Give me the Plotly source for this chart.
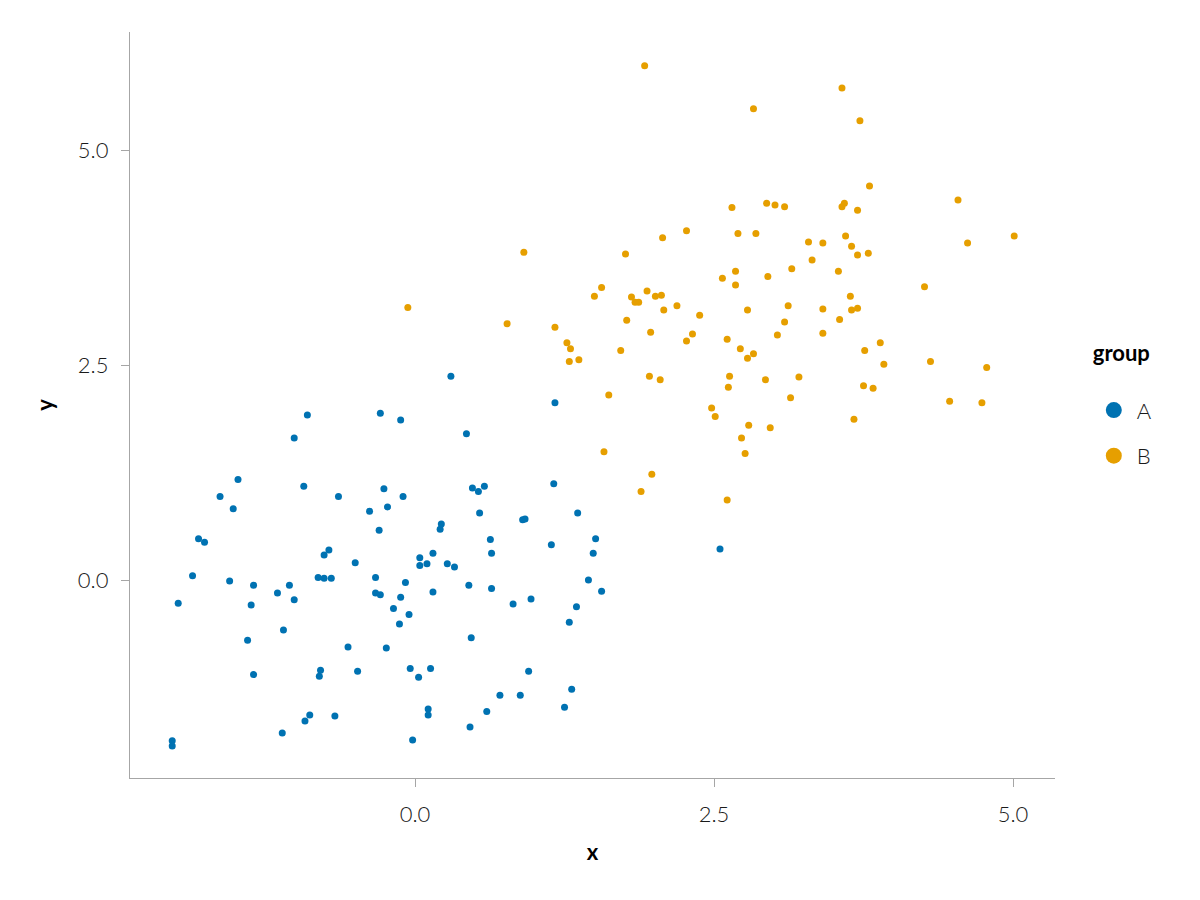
"""
Scatter of two groups (A, B) of x/y observations.
"""
import plotly.graph_objects as go

# ---------- Data ----------
groups = ["A", "B"]
colors = {"A": "#0072B2", "B": "#E69F00"}

a_x = [-2.03, -2.03, -1.98, -1.86, -1.81, -1.76, -1.63, -1.55, -1.52, -1.48,
       -1.40, -1.37, -1.35, -1.35, -1.15, -1.10, -1.05, -1.01, -1.01, -0.93,
       -0.92, -0.90, -0.88, -0.81, -0.79, -0.80, -0.76, -0.76, -0.72, -0.70,
       -0.67, -0.64, -0.56, -0.50, -0.48, -0.38, -0.33, -0.33, -0.30, -0.29,
       -0.29, -0.26, -0.24, -0.23, -0.18, -0.13, -0.12, -0.10, -0.12, -0.08,
       -0.05, -0.04, -0.02, 0.04, 0.04, 0.03, 0.10, 0.11, 0.11, 0.13,
       0.15, 0.15, 0.21, 0.22, 0.27, 0.33, 0.30, 0.43, 0.45, 0.46,
       0.47, 0.48, 0.53, 0.54, 0.58, 0.60, 0.63, 0.64, 0.64, 0.71,
       0.82, 0.88, 0.90, 0.92, 0.95, 0.97, 1.14, 1.17, 1.16, 1.25,
       1.29, 1.31, 1.35, 1.36, 1.45, 1.49, 1.51, 1.56, 2.55, -1.11]
a_y = [-1.87, -1.93, -0.27, 0.05, 0.48, 0.44, 0.97, -0.01, 0.83, 1.17,
       -0.70, -0.29, -0.06, -1.10, -0.15, -0.58, -0.06, 1.65, -0.23, 1.09,
       -1.64, 1.92, -1.57, 0.03, -1.05, -1.12, 0.29, 0.02, 0.35, 0.02,
       -1.58, 0.97, -0.78, 0.20, -1.06, 0.80, 0.03, -0.15, 0.58, -0.17,
       1.94, 1.06, -0.79, 0.85, -0.33, -0.51, 1.86, 0.97, -0.20, -0.03,
       -0.40, -1.03, -1.86, 0.26, 0.17, -1.13, 0.19, -1.50, -1.57, -1.03,
       0.31, -0.14, 0.59, 0.65, 0.19, 0.15, 2.37, 1.70, -0.06, -1.71,
       -0.67, 1.07, 1.03, 0.78, 1.09, -1.53, 0.47, 0.31, -0.10, -1.34,
       -0.28, -1.34, 0.70, 0.71, -1.06, -0.22, 0.41, 2.06, 1.12, -1.48,
       -0.49, -1.27, -0.31, 0.78, 0.00, 0.31, 0.48, -0.13, 0.36, -1.78]

b_x = [-0.06, 0.77, 0.91, 1.17, 1.27, 1.30, 1.29, 1.37, 1.50, 1.56,
       1.58, 1.62, 1.72, 1.76, 1.77, 1.81, 1.84, 1.87, 1.89, 1.92,
       1.94, 1.96, 1.97, 1.98, 2.01, 2.05, 2.06, 2.07, 2.08, 2.19,
       2.27, 2.27, 2.32, 2.38, 2.48, 2.51, 2.57, 2.61, 2.61, 2.62,
       2.63, 2.65, 2.68, 2.68, 2.70, 2.72, 2.73, 2.76, 2.78, 2.78,
       2.79, 2.83, 2.83, 2.85, 2.93, 2.94, 2.95, 2.97, 3.01, 3.03,
       3.09, 3.09, 3.12, 3.14, 3.15, 3.21, 3.29, 3.32, 3.41, 3.41,
       3.41, 3.54, 3.55, 3.57, 3.57, 3.59, 3.60, 3.64, 3.65, 3.65,
       3.67, 3.70, 3.70, 3.70, 3.72, 3.75, 3.76, 3.79, 3.80, 3.83,
       3.89, 3.92, 4.26, 4.31, 4.47, 4.54, 4.62, 4.74, 4.78, 5.01]
b_y = [3.17, 2.98, 3.81, 2.94, 2.76, 2.69, 2.54, 2.56, 3.30, 3.40,
       1.49, 2.15, 2.67, 3.79, 3.02, 3.29, 3.23, 3.23, 1.03, 5.98,
       3.36, 2.37, 2.88, 1.23, 3.30, 2.33, 3.31, 3.98, 3.14, 3.19,
       4.06, 2.78, 2.86, 3.08, 2.00, 1.90, 3.51, 2.80, 0.93, 2.24,
       2.37, 4.33, 3.59, 3.43, 4.03, 2.69, 1.65, 1.47, 3.14, 2.58,
       1.80, 5.48, 2.63, 4.03, 2.33, 4.38, 3.53, 1.77, 4.36, 2.85,
       3.00, 4.34, 3.19, 2.12, 3.62, 2.36, 3.93, 3.72, 3.92, 3.15,
       2.87, 3.59, 3.03, 5.72, 4.34, 4.38, 4.00, 3.30, 3.88, 3.14,
       1.87, 3.16, 4.30, 3.78, 5.34, 2.26, 2.67, 3.80, 4.58, 2.23,
       2.76, 2.51, 3.41, 2.54, 2.08, 4.42, 3.92, 2.06, 2.47, 4.00]

x_ticks = [0.0, 2.5, 5.0]
y_ticks = [0.0, 2.5, 5.0]

FONT = "Lato"

# ---------- Figure ----------
fig = go.Figure()
for g, xs, ys in (("A", a_x, a_y), ("B", b_x, b_y)):
    fig.add_trace(go.Scatter(
        x=xs, y=ys, mode="markers", name=g, legendgroup=g, showlegend=False,
        marker=dict(color=colors[g], size=7, line=dict(width=0)),
    ))
    # legend-only entry with a larger symbol
    fig.add_trace(go.Scatter(
        x=[None], y=[None], mode="markers", name=g, legendgroup=g,
        marker=dict(color=colors[g], size=20, line=dict(width=0)),
    ))

axis_common = dict(
    showgrid=False, zeroline=False, showline=True, linecolor="#a6a6a6", linewidth=1.3,
    ticks="outside", ticklen=8, tickcolor="#a6a6a6", tickwidth=1.3,
    tickfont=dict(family=FONT, size=22, color="#1a1a1a", weight=300),
    tickformat=".1f",
)

fig.update_layout(
    width=1200, height=900,
    paper_bgcolor="white", plot_bgcolor="white",
    margin=dict(l=122, r=153, t=24, b=130),
    font=dict(family=FONT, color="#1a1a1a"),
    xaxis=dict(axis_common, range=[-2.383, 5.351], tickvals=x_ticks,
               ticklabelstandoff=8,
               title=dict(text="x", font=dict(family=FONT, size=22, color="black", weight=700),
                          standoff=19)),
    yaxis=dict(axis_common, range=[-2.302, 6.372], tickvals=y_ticks,
               ticklabelstandoff=8,
               title=dict(text="y", font=dict(family=FONT, size=22, color="black", weight=700),
                          standoff=18)),
    legend=dict(
        title=dict(text="group<br> ", font=dict(family=FONT, size=22, color="black", weight=700)),
        font=dict(family=FONT, size=22, color="#1a1a1a", weight=300),
        x=1.0387, xanchor="left", y=0.5977, yanchor="top",
        tracegroupgap=14, itemsizing="trace", itemwidth=36,
    ),
)

fig.write_html("out.html")
